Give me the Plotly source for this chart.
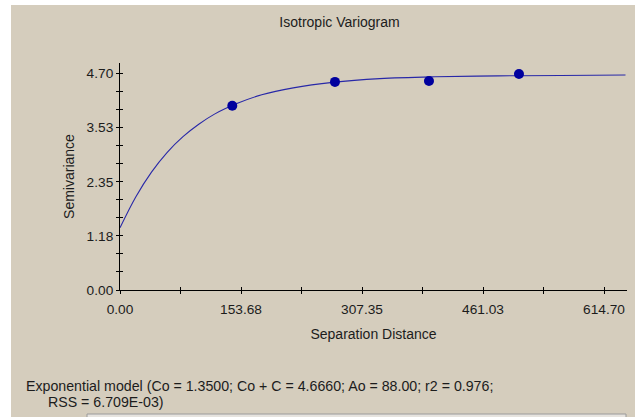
import plotly.graph_objects as go

# ---- data ----
lag_distance = [142.6, 273.0, 392.4, 506.7]
semivariance = [4.00, 4.52, 4.54, 4.69]

model_distance = [0, 20, 40, 60, 80, 100, 120, 150, 180, 220, 270, 330, 400, 480, 560, 642]
model_semivariance = [1.35, 2.02, 2.56, 2.99, 3.33, 3.60, 3.82, 4.06, 4.24, 4.39, 4.51, 4.59, 4.63, 4.65, 4.66, 4.67]

x_tick_vals = [0, 153.675, 307.35, 461.025, 614.70]
x_tick_text = ["0.00", "153.68", "307.35", "461.03", "614.70"]
x_minor_vals = [76.8375, 230.5125, 384.1875, 537.8625]

y_tick_vals = [0, 1.175, 2.35, 3.525, 4.70]
y_tick_text = ["0.00", "1.18", "2.35", "3.53", "4.70"]
y_minor_vals = [0.39167, 0.78333, 1.56667, 1.95833, 2.74167, 3.13333,
                3.91667, 4.30833]

title_text = "Isotropic Variogram"
x_title = "Separation Distance"
y_title = "Semivariance"
model_line1 = "Exponential model (Co = 1.3500; Co + C = 4.6660; Ao = 88.00; r2 = 0.976;"
model_line2 = "RSS = 6.709E-03)"

# ---- styling ----
BEIGE = "#D5CDBD"
FONT = "Liberation Sans, Arial, sans-serif"
TXT = "#1c1c1c"
X_RANGE = [0, 643.9]
Y_RANGE = [0, 4.93]
TXT_SIZE = 14
TICK_SIZE = 13.7

W, H = 635, 417
L, R, T, B = 120, 8, 63, 127
PW = W - L - R
PH = H - T - B


def px_x(p):
    return (p - L) / PW


def px_y(p):
    return (H - B - p) / PH


fig = go.Figure()

fig.add_trace(go.Scatter(
    x=model_distance, y=model_semivariance, mode="lines",
    line=dict(color="#2828A8", width=1.1, shape="spline"),
    showlegend=False, hoverinfo="skip"))

fig.add_trace(go.Scatter(
    x=lag_distance, y=semivariance, mode="markers",
    marker=dict(color="#00009E", size=10, line=dict(width=0)),
    showlegend=False))

# dummy trace so the overlay axes (inside tick marks) are drawn
fig.add_trace(go.Scatter(x=[None], y=[None], xaxis="x2", yaxis="y2",
                         showlegend=False, hoverinfo="skip"))

common_axis = dict(showgrid=False, zeroline=False, tickcolor="black",
                   tickwidth=1, ticklen=3)
minor_out = dict(ticks="outside", ticklen=3, tickcolor="black", tickwidth=1)
minor_in = dict(ticks="inside", ticklen=3, tickcolor="black", tickwidth=1)

fig.update_layout(
    width=W, height=H,
    margin=dict(l=L, r=R, t=T, b=B),
    paper_bgcolor="white",
    plot_bgcolor="rgba(0,0,0,0)",
    font=dict(family=FONT, size=TXT_SIZE, color=TXT),
    title=dict(text=title_text, x=339.5 / W, y=1 - 22 / H,
               xanchor="center", yanchor="middle",
               font=dict(family=FONT, size=TXT_SIZE, color=TXT)),
    xaxis=dict(range=X_RANGE, tickmode="array", tickvals=x_tick_vals,
               ticktext=x_tick_text, ticks="outside", ticklabelstandoff=4,
               minor=dict(tickmode="array", tickvals=x_minor_vals, **minor_out),
               showline=True, linecolor="black", linewidth=1,
               title=dict(text=x_title, standoff=12,
                          font=dict(family=FONT, size=TXT_SIZE, color=TXT)),
               tickfont=dict(family=FONT, size=TICK_SIZE, color=TXT),
               **common_axis),
    yaxis=dict(range=Y_RANGE, tickmode="array", tickvals=y_tick_vals,
               ticktext=y_tick_text, ticks="outside",
               minor=dict(tickmode="array", tickvals=y_minor_vals, **minor_out),
               showline=True, linecolor="black", linewidth=1,
               title=dict(text=y_title, standoff=8,
                          font=dict(family=FONT, size=TXT_SIZE, color=TXT)),
               tickfont=dict(family=FONT, size=TICK_SIZE, color=TXT),
               **common_axis),
    xaxis2=dict(range=X_RANGE, overlaying="x", side="bottom",
                tickmode="array", tickvals=x_tick_vals, ticks="inside",
                showticklabels=False,
                minor=dict(tickmode="array", tickvals=x_minor_vals, **minor_in),
                showline=False, **common_axis),
    yaxis2=dict(range=Y_RANGE, overlaying="y", side="left",
                tickmode="array", tickvals=y_tick_vals, ticks="inside",
                showticklabels=False,
                minor=dict(tickmode="array", tickvals=y_minor_vals, **minor_in),
                showline=False, **common_axis),
    shapes=[
        dict(type="rect", xref="paper", yref="paper", layer="below",
             x0=px_x(11), x1=px_x(640), y0=px_y(420), y1=px_y(5),
             fillcolor=BEIGE, line=dict(width=0)),
        dict(type="rect", xref="paper", yref="paper", layer="below",
             x0=px_x(87), x1=px_x(626), y0=px_y(420), y1=px_y(414),
             fillcolor="#E6E3DE", line=dict(color="#9A9A9A", width=1)),
    ],
    annotations=[
        dict(text=model_line1, xref="paper", yref="paper",
             x=px_x(23.5), y=px_y(386), xanchor="left", yanchor="middle",
             showarrow=False, font=dict(family=FONT, size=14.2, color=TXT)),
        dict(text=model_line2, xref="paper", yref="paper",
             x=px_x(46), y=px_y(402), xanchor="left", yanchor="middle",
             showarrow=False, font=dict(family=FONT, size=14.2, color=TXT)),
    ],
)

fig.write_html("out.html",
               config={"displayModeBar": False},
               post_script="document.body.style.margin='0';"
                           "document.body.style.overflow='hidden';")
